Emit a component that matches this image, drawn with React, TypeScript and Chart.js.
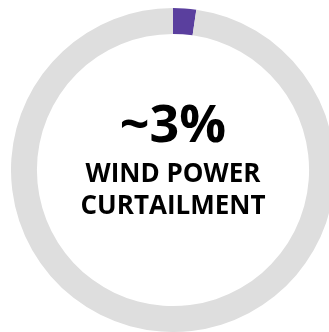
import React, { useEffect, useRef } from "react";
import { Chart, registerables } from "chart.js";

Chart.register(...registerables);

const categories = ["Wind power curtailment", "Other"];
const values = [2.3, 97.7];
const colors = ["#5a3f9e", "#dedede"];
const headline = "~3%";
const subLines = ["WIND POWER", "CURTAILMENT"];

const centerText = {
  id: "centerText",
  afterDraw(chart: any) {
    const { ctx, chartArea } = chart;
    const cx = (chartArea.left + chartArea.right) / 2;
    const cy = (chartArea.top + chartArea.bottom) / 2;
    ctx.save();
    ctx.fillStyle = "#000000";
    ctx.textAlign = "center";
    ctx.textBaseline = "alphabetic";
    ctx.font = "bold 52px 'Open Sans'";
    ctx.fillText(headline, cx, cy - 28);
    ctx.font = "bold 26px 'Open Sans'";
    ctx.fillText(subLines[0], cx, cy + 12);
    ctx.fillText(subLines[1], cx, cy + 44);
    ctx.restore();
  },
};

export default function App() {
  const ref = useRef<HTMLCanvasElement>(null);
  useEffect(() => {
    if (!ref.current) return;
    const chart = new Chart(ref.current, {
      type: "doughnut",
      data: {
        labels: categories,
        datasets: [
          {
            data: values,
            backgroundColor: colors,
            borderWidth: 0,
          },
        ],
      },
      options: {
        animation: false,
        responsive: true,
        maintainAspectRatio: false,
        cutout: "84%",
        layout: { padding: 0 },
        plugins: {
          legend: { display: false },
          tooltip: { enabled: false },
        },
      },
      plugins: [centerText],
    });
    return () => chart.destroy();
  }, []);
  return (
    <div
      style={{
        position: "fixed",
        left: 0,
        top: 0,
        width: 329,
        height: 332,
        overflow: "hidden",
        background: "#ffffff",
      }}
    >
      <div style={{ position: "absolute", left: 11, top: 8, width: 324, height: 324 }}>
        <canvas ref={ref} />
      </div>
    </div>
  );
}
